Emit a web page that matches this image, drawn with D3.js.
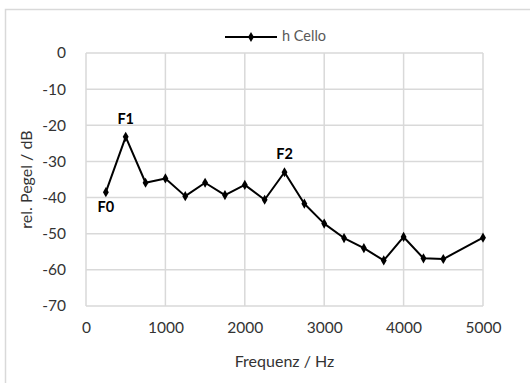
<!DOCTYPE html>
<html lang="de">
<head>
    <meta charset="UTF-8">
    <title>h Cello</title>
    <script src="https://cdn.jsdelivr.net/npm/d3@7"></script>
</head>
<style>
    body{
        margin:0;
        background:#fff;
    }
    text{
        font-family: Lato, "Open Sans", sans-serif;
    }
</style>
<body>
<div id="chart"></div>
<script>
    // data
    var freq = [250, 500, 750, 1000, 1250, 1500, 1750, 2000, 2250, 2500, 2750, 3000, 3250, 3500, 3750, 4000, 4250, 4500, 5000];
    var level = [-38.5, -23.2, -35.9, -34.7, -39.6, -35.9, -39.3, -36.5, -40.6, -33.0, -41.7, -47.2, -51.2, -54.0, -57.4, -50.9, -56.8, -57.0, -51.1];
    var xTicks = [0, 1000, 2000, 3000, 4000, 5000];
    var yTicks = [0, -10, -20, -30, -40, -50, -60, -70];
    var noteLabels = ["F0", "F1", "F2"];
    var noteFreq = [250, 500, 2500];
    var seriesName = "h Cello";

    (function(){
        var W = 530, H = 383;
        // plot box (window.top is reserved, so no bare "top")
        var pl = 86, pr = 483, pt = 53, pb = 306;

        var svg = d3.select("#chart").append("svg")
            .attr("width", W)
            .attr("height", H);

        // outer chart frame
        svg.append("rect")
            .attr("x", 5.5).attr("y", 9.5)
            .attr("width", W).attr("height", H)
            .style("fill", "none")
            .style("stroke", "#d9d9d9")
            .style("stroke-width", 1.5);

        var x = d3.scaleLinear().domain([0, 5000]).range([pl, pr]);
        var y = d3.scaleLinear().domain([-70, 0]).range([pb, pt]);

        // grid
        svg.append("g").selectAll("line")
            .data(yTicks).enter().append("line")
            .attr("x1", pl).attr("x2", pr)
            .attr("y1", function(d){ return y(d); })
            .attr("y2", function(d){ return y(d); })
            .style("stroke", "#d9d9d9").style("stroke-width", 1.5);
        svg.append("g").selectAll("line")
            .data(xTicks).enter().append("line")
            .attr("y1", pt).attr("y2", pb)
            .attr("x1", function(d){ return x(d); })
            .attr("x2", function(d){ return x(d); })
            .style("stroke", "#d9d9d9").style("stroke-width", 1.5);

        // axes, tick labels only; plain hyphen as minus like the original
        var plain = function(d){ return String(d); };
        var xAxis = svg.append("g")
            .attr("transform", "translate(0," + pb + ")")
            .call(d3.axisBottom(x).tickValues(xTicks).tickSize(0).tickPadding(16).tickFormat(plain));
        var yAxis = svg.append("g")
            .attr("transform", "translate(" + pl + ",0)")
            .call(d3.axisLeft(y).tickValues(yTicks).tickSize(0).tickPadding(20).tickFormat(plain));
        [xAxis, yAxis].forEach(function(a){
            a.select(".domain").remove();
            a.selectAll("text")
                .style("font-size", "15.5px")
                .style("fill", "#333")
                .style("font-family", "Lato, sans-serif");
        });

        // axis titles
        svg.append("text")
            .attr("x", (pl + pr) / 2)
            .attr("y", 367)
            .attr("text-anchor", "middle")
            .style("font-size", "16px")
            .style("fill", "#333")
            .text("Frequenz / Hz");
        svg.append("text")
            .attr("transform", "translate(32," + ((pt + pb) / 2) + ") rotate(-90)")
            .attr("text-anchor", "middle")
            .style("font-size", "16px")
            .style("fill", "#333")
            .text("rel. Pegel / dB");

        // series
        var pts = freq.map(function(f, i){ return {f: f, v: level[i]}; });
        var line = d3.line()
            .x(function(d){ return x(d.f); })
            .y(function(d){ return y(d.v); });
        svg.append("path")
            .datum(pts)
            .attr("d", line)
            .style("fill", "none")
            .style("stroke", "#000")
            .style("stroke-width", 2)
            .style("stroke-linejoin", "round");
        var diamond = d3.symbol().type(d3.symbolDiamond).size(30);
        svg.append("g").selectAll("path")
            .data(pts).enter().append("path")
            .attr("d", diamond)
            .attr("transform", function(d){ return "translate(" + x(d.f) + "," + y(d.v) + ")"; })
            .style("fill", "#000");

        // formant labels: F0 below its point, the others above
        svg.append("g").selectAll("text")
            .data(noteLabels).enter().append("text")
            .attr("x", function(d, i){ return x(noteFreq[i]); })
            .attr("y", function(d, i){
                var v = level[freq.indexOf(noteFreq[i])];
                return y(v) + (i == 0 ? 16 : -17);
            })
            .attr("text-anchor", "middle")
            .attr("dominant-baseline", "middle")
            .style("font-size", "14.5px")
            .style("font-weight", "bold")
            .style("fill", "#000")
            .text(function(d){ return d; });

        // legend
        var lg = svg.append("g").attr("transform", "translate(225,37)");
        lg.append("line")
            .attr("x1", 0).attr("x2", 52)
            .style("stroke", "#000").style("stroke-width", 2);
        lg.append("path")
            .attr("d", diamond)
            .attr("transform", "translate(26,0)")
            .style("fill", "#000");
        lg.append("text")
            .attr("x", 57).attr("y", 0)
            .attr("dominant-baseline", "middle")
            .style("font-size", "14.5px")
            .style("fill", "#595959")
            .text(seriesName);
    }());
</script>
</body>
</html>
